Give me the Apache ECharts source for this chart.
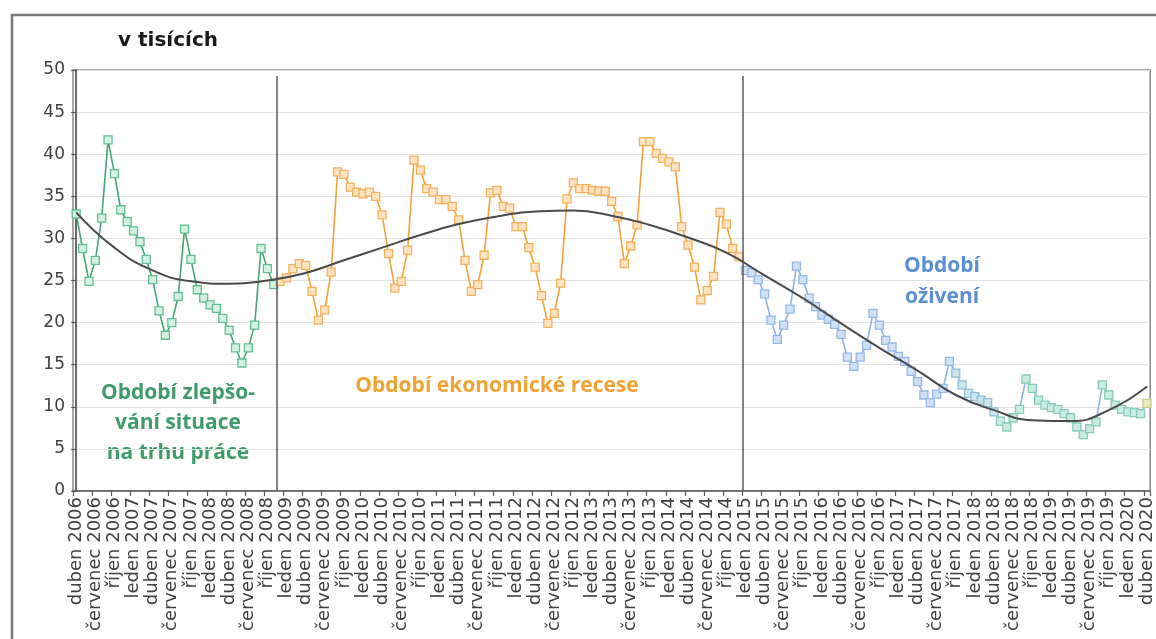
<!DOCTYPE html>
<html>
<head>
<meta charset="utf-8">
<script src="https://cdn.jsdelivr.net/npm/echarts@6/dist/echarts.min.js"></script>
<style>
html,body{margin:0;padding:0;background:#fff;}
#chart{width:1156px;height:639px;}
</style>
</head>
<body>
<div id="chart"></div>
<script>
// ---- DATA ----
const monthNames = ['leden','únor','březen','duben','květen','červen','červenec','srpen','září','říjen','listopad','prosinec'];
const startYear = 2006, startMonth = 3; // duben 2006
const monthCount = 169;                 // duben 2006 .. duben 2020

// Období zlepšování situace na trhu práce (duben 2006 – listopad 2008)
const greenStart = 0;
const greenValues = [32.9, 28.8, 24.9, 27.4, 32.4, 41.7, 37.7, 33.4, 32.0, 30.9, 29.6, 27.5,
  25.1, 21.4, 18.5, 20.0, 23.1, 31.1, 27.5, 23.9, 22.9, 22.1, 21.7, 20.5,
  19.1, 17.0, 15.2, 17.0, 19.7, 28.8, 26.4, 24.5];

// Období ekonomické recese (prosinec 2008 – prosinec 2014)
const orangeStart = 32;
const orangeValues = [24.9, 25.3, 26.4, 27.0, 26.8, 23.7, 20.3, 21.5, 26.0, 37.9, 37.6, 36.1,
  35.5, 35.3, 35.5, 35.0, 32.8, 28.2, 24.1, 24.9, 28.6, 39.3, 38.1, 35.9,
  35.5, 34.6, 34.6, 33.8, 32.2, 27.4, 23.7, 24.5, 28.0, 35.4, 35.7, 33.8,
  33.6, 31.4, 31.4, 28.9, 26.6, 23.2, 19.9, 21.1, 24.7, 34.7, 36.6, 35.9,
  35.9, 35.7, 35.6, 35.6, 34.4, 32.6, 27.0, 29.1, 31.6, 41.5, 41.5, 40.1,
  39.5, 39.1, 38.5, 31.4, 29.2, 26.6, 22.7, 23.8, 25.5, 33.1, 31.7, 28.8, 27.8];

// Období oživení (leden 2015 – duben 2020)
const blueStart = 105;
const blueValues = [26.2, 25.9, 25.1, 23.4, 20.3, 18.0, 19.7, 21.6, 26.7, 25.1, 22.9, 21.9,
  20.9, 20.4, 19.8, 18.6, 15.9, 14.8, 15.9, 17.3, 21.1, 19.7, 17.9, 17.1,
  16.0, 15.4, 14.2, 13.0, 11.4, 10.5, 11.5, 12.2, 15.4, 14.0, 12.6, 11.6,
  11.2, 10.8, 10.5, 9.4, 8.3, 7.6, 8.7, 9.7, 13.3, 12.2, 10.8, 10.2,
  9.9, 9.7, 9.2, 8.7, 7.6, 6.7, 7.4, 8.2, 12.6, 11.4, 10.2, 9.7,
  9.4, 9.3, 9.2, 10.4];

// Polynomický trend (odečten z grafu po půl roce)
const trendMonths = [0, 6, 12, 18, 24, 30, 36, 42, 48, 54, 60, 66, 72, 78, 84, 90, 96,
  102, 108, 114, 120, 126, 132, 138, 144, 150, 156, 162, 168];
const trendValues = [33.1, 28.9, 26.2, 24.9, 24.6, 25.0, 25.9, 27.4, 28.9, 30.4, 31.7, 32.6, 33.2,
  33.3, 32.7, 31.6, 30.1, 28.3, 25.6, 22.9, 19.9, 17.0, 14.3, 11.4, 9.6, 8.4, 8.3, 9.6, 12.4];

// Hranice období (mezi měsíci)
const periodBreaks = [31.5, 104.5];

const yTicks = {min: 0, max: 50, interval: 5};

// ---- BUILD ----
const categories = [];
for (let i = 0; i < monthCount; i++) {
  const m = (startMonth + i) % 12;
  const y = startYear + Math.floor((startMonth + i) / 12);
  categories.push(monthNames[m] + ' ' + y);
}
function pad(start, vals) {
  const arr = new Array(monthCount).fill(null);
  vals.forEach((v, k) => { arr[start + k] = v; });
  return arr;
}
const greenData = pad(greenStart, greenValues);
const orangeData = pad(orangeStart, orangeValues);
const blueRaw = pad(blueStart, blueValues);
const blueData = blueRaw.map((v, i) => {
  if (v === null) return null;
  if (i === monthCount - 1) return {value: v, itemStyle: {color: '#e6ecbe', borderColor: '#c9cf86'}};
  if (i >= 145) return {value: v, itemStyle: {color: '#c9ece2', borderColor: '#87ccb8'}};
  if (i >= 138) return {value: v, itemStyle: {color: '#cbe5ee', borderColor: '#8ec0d6'}};
  return v;
});
const trendData = trendMonths.map((m, k) => [m, trendValues[k]]);

const axisFont = 'DejaVu Sans';
const annFont = 'Open Sans';

const chart = echarts.init(document.getElementById('chart'), null, {renderer: 'canvas'});
const lineSeries = (name, data, lineColor, fill, border) => ({
  name, type: 'line', data, xAxisIndex: 0, yAxisIndex: 0,
  symbol: 'rect', symbolSize: 8, showAllSymbol: true, connectNulls: false,
  lineStyle: {color: lineColor, width: 1.6},
  itemStyle: {color: fill, borderColor: border, borderWidth: 1.3},
  emphasis: {disabled: true}, animation: false, z: 3
});

chart.setOption({
  animation: false,
  backgroundColor: '#ffffff',
  grid: {left: 73, right: 4, top: 70, bottom: 148, show: true,
    borderColor: '#8a8a8a', borderWidth: 1.5, backgroundColor: 'transparent'},
  xAxis: [{
    type: 'category', data: categories, boundaryGap: true,
    axisLine: {show: true, lineStyle: {color: '#595959', width: 1.5}},
    axisTick: {show: true, interval: 2, length: 5, lineStyle: {color: '#595959', width: 1.2}},
    axisLabel: {interval: 2, rotate: 90, fontFamily: axisFont, fontSize: 18, color: '#404040', margin: 6},
    splitLine: {show: false}
  }, {
    type: 'value', min: -0.5, max: 168.5, show: false, splitLine: {show: false}
  }],
  yAxis: {
    type: 'value', min: yTicks.min, max: yTicks.max, interval: yTicks.interval,
    axisLine: {show: true, lineStyle: {color: '#595959', width: 1.8}},
    axisTick: {show: true, length: 5, lineStyle: {color: '#595959', width: 1.2}},
    axisLabel: {fontFamily: axisFont, fontSize: 17, color: '#404040', margin: 8},
    splitLine: {show: true, lineStyle: {color: '#e3e3e3', width: 1}}
  },
  series: [
    lineSeries('Období zlepšování situace na trhu práce', greenData, '#46a477', '#d3f0e0', '#62bf92'),
    lineSeries('Období ekonomické recese', orangeData, '#f2a23a', '#fde3c1', '#f5b15c'),
    lineSeries('Období oživení', blueData, '#8eb2e2', '#d0e1f6', '#94b9e8'),
    {
      name: 'Trend', type: 'line', xAxisIndex: 1, yAxisIndex: 0, data: trendData,
      smooth: 0.5, symbol: 'none', lineStyle: {color: '#4a4a4a', width: 2},
      emphasis: {disabled: true}, z: 4,
      markLine: {
        silent: true, symbol: 'none', label: {show: false},
        lineStyle: {color: '#5a5a5a', width: 1.5, type: 'solid'},
        data: periodBreaks.map(b => [{coord: [b, 0]}, {coord: [b, 49.3]}])
      }
    }
  ],
  graphic: [
    {type: 'rect', z: -10, silent: true, shape: {x: 12, y: 15, width: 1200, height: 700},
      style: {fill: 'none', stroke: '#7a7a7a', lineWidth: 2.5}},
    {type: 'text', left: 118, top: 31, silent: true,
      style: {text: 'v tisících', font: 'bold 20px "DejaVu Sans"', fill: '#1a1a1a'}},
    {type: 'text', x: 178, y: 378, silent: true,
      style: {text: 'Období zlepšo-\nvání situace\nna trhu práce', font: 'bold 21px "Open Sans"',
        fill: '#3f9b6c', align: 'center', lineHeight: 30}},
    {type: 'text', x: 497, y: 376, silent: true,
      style: {text: 'Období ekonomické recese', font: 'bold 21px "Open Sans"', fill: '#f0a232', align: 'center'}},
    {type: 'text', x: 942, y: 251, silent: true,
      style: {text: 'Období\noživení', font: 'bold 21px "Open Sans"', fill: '#5b8fd2', align: 'center', lineHeight: 31}}
  ]
});
</script>
</body>
</html>
